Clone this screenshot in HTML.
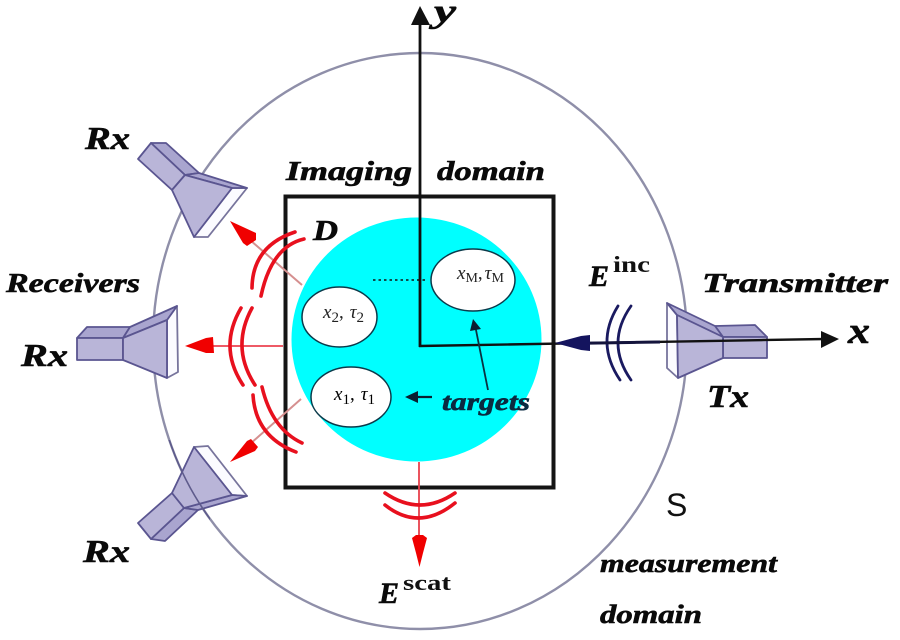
<!DOCTYPE html>
<html>
<head>
<meta charset="utf-8">
<style>
html,body{margin:0;padding:0;background:#fff;width:900px;height:640px;overflow:hidden}
svg{display:block;filter:blur(0.35px)}
.b{font-family:"Liberation Serif",serif;font-weight:bold;font-style:italic;fill:#0a0a0a;stroke:#0a0a0a;stroke-width:.6}
.m{font-family:"Liberation Serif",serif;font-style:italic;fill:#222;font-size:19px}
.h polygon{fill:#b9b5d8;stroke:#5a5590;stroke-width:1.8;stroke-linejoin:round}
.h polygon.w{fill:#fbfbff;stroke:#77749c}
.h polygon.t{fill:#a9a5cf}
.r{fill:none;stroke:#e8101e;stroke-width:3.6;stroke-linecap:round}
.n{fill:none;stroke:#1a1a60;stroke-width:2.8;stroke-linecap:round}
</style>
</head>
<body>
<svg width="900" height="640" viewBox="0 0 900 640" xmlns="http://www.w3.org/2000/svg">
<defs><clipPath id="c"><rect x="150" y="440" width="60" height="80"/></clipPath></defs>
<rect width="900" height="640" fill="#fff"/>

<ellipse cx="420" cy="341" rx="267" ry="288" fill="none" stroke="#8f8fa9" stroke-width="2.4"/>

<ellipse cx="416.5" cy="339.5" rx="125" ry="122" fill="#00ffff"/>
<rect x="285.5" y="196.5" width="268" height="291" fill="none" stroke="#141414" stroke-width="4"/>

<ellipse cx="473" cy="280" rx="42" ry="31" fill="#fff" stroke="#0b3a4a" stroke-width="1.5"/>
<ellipse cx="339.5" cy="317" rx="37.5" ry="30" fill="#fff" stroke="#0b3a4a" stroke-width="1.5"/>
<ellipse cx="351" cy="397" rx="40" ry="30" fill="#fff" stroke="#0b3a4a" stroke-width="1.5"/>

<!-- Horns -->
<g class="h">
<polygon class="t" points="151,143 166,143 199,173 185,175"/>
<polygon points="138,159 151,143 185,175 172,190"/>
<polygon class="w" points="232,188 247,188 208,237 194,237"/>
<polygon class="t" points="185,175 199,173 247,188 232,188"/>
<polygon points="185,175 232,188 194,237 172,190"/>

<polygon class="t" points="77,338 87,327 130,327 123,338"/>
<polygon points="77,338 123,338 123,360 77,360"/>
<polygon class="w" points="167,320 177,306 178,372 167,378"/>
<polygon class="t" points="123,338 130,327 177,306 167,320"/>
<polygon points="123,338 167,320 167,378 123,360"/>

<polygon class="t" points="151,539 165,541 198,510 184,508"/>
<polygon points="138,523 172,493 184,508 151,539"/>
<polygon class="w" points="194,447 208,446 247,496 232,495"/>
<polygon class="t" points="184,508 232,495 247,496 198,510"/>
<polygon points="172,493 194,447 232,495 184,508"/>

<polygon class="t" points="715,326 755,325 767,337 723,337"/>
<polygon points="723,337 767,337 767,358 723,358"/>
<polygon class="w" points="667,303 677,315 678,378 667,368"/>
<polygon class="t" points="667,303 715,326 723,337 677,315"/>
<polygon points="677,315 723,337 723,358 678,378"/>
</g>
<ellipse cx="420" cy="341" rx="267" ry="288" fill="none" stroke="#5e5b8c" stroke-width="1.6" clip-path="url(#c)"/>

<!-- Red scattered rays -->
<line x1="302" y1="285" x2="250" y2="240" stroke="#d58f8f" stroke-width="2"/>
<polygon points="230,221 256,233 256,240 247,246 243,243" fill="#f00000"/>
<line x1="283" y1="346" x2="210" y2="346" stroke="#ee5a66" stroke-width="2"/>
<polygon points="185,346 206,338 213,337 214,353 206,353" fill="#f00000"/>
<line x1="301" y1="399" x2="250" y2="444" stroke="#d58f8f" stroke-width="2"/>
<polygon points="230,462 247,441 251,439 258,447 255,451" fill="#f00000"/>
<line x1="419" y1="462" x2="419" y2="537" stroke="#e8404c" stroke-width="1.8"/>
<polygon points="412,538 416,535 423,535 427,538 423,553 419.5,567 416,553" fill="#f00000"/>

<path class="r" d="M295,232 Q252.5,246 252,288"/>
<path class="r" d="M304,239 Q271.5,246.5 261,296"/>
<path class="r" d="M241,308 Q218,347.5 243,385"/>
<path class="r" d="M252,308 Q230.5,347.5 255,385"/>
<path class="r" d="M253,395 Q255.5,436.5 296,452"/>
<path class="r" d="M262,387 Q272,429 302,443"/>
<path class="r" d="M385,493 Q420,517 455,493"/>
<path class="r" d="M385,505 Q419,532 455,503"/>

<!-- Incident wave -->
<path class="n" d="M618,306 Q595,343 620,380"/>
<path class="n" d="M631,306 Q605,343 631,380"/>

<!-- Axes -->
<line x1="420" y1="347" x2="420" y2="22" stroke="#111" stroke-width="2.8"/>
<polygon points="420,6 411,25 430,25" fill="#111"/>
<line x1="419" y1="346" x2="825" y2="339" stroke="#111" stroke-width="2.4"/>
<line x1="575" y1="343.4" x2="660" y2="342" stroke="#14143c" stroke-width="3"/>
<polygon points="555,343 581,336 590,335 590,351 581,350" fill="#14145e"/>
<polygon points="839,339 821,331 821,348" fill="#111"/>

<!-- Target arrows -->
<line x1="373" y1="280" x2="426" y2="280" stroke="#111" stroke-width="1.6" stroke-dasharray="2.5 3"/>
<line x1="488" y1="390" x2="475" y2="325" stroke="#0b3040" stroke-width="1.8"/>
<polygon points="473,319 481,329 470,331" fill="#0a2030"/>
<line x1="432" y1="397" x2="412" y2="397" stroke="#0a2030" stroke-width="2.2"/>
<polygon points="405,397 418,391 418,403" fill="#0a2030"/>

<!-- Text labels -->
<text class="b" x="85" y="149" font-size="32" textLength="45" lengthAdjust="spacingAndGlyphs">Rx</text>
<text class="b" x="6" y="292" font-size="27" textLength="134" lengthAdjust="spacingAndGlyphs">Receivers</text>
<text class="b" x="21" y="366" font-size="32" textLength="47" lengthAdjust="spacingAndGlyphs">Rx</text>
<text class="b" x="83" y="562" font-size="32" textLength="47" lengthAdjust="spacingAndGlyphs">Rx</text>
<text class="b" x="286" y="180" font-size="27" textLength="126" lengthAdjust="spacingAndGlyphs">Imaging</text>
<text class="b" x="437" y="180" font-size="27" textLength="108" lengthAdjust="spacingAndGlyphs">domain</text>
<text class="b" x="313" y="240" font-size="28" textLength="25" lengthAdjust="spacingAndGlyphs">D</text>
<text class="b" x="702" y="292" font-size="27" textLength="186" lengthAdjust="spacingAndGlyphs">Transmitter</text>
<text class="b" x="707" y="407" font-size="32" textLength="42" lengthAdjust="spacingAndGlyphs">Tx</text>
<text class="b" x="848" y="343" font-size="37" textLength="22" lengthAdjust="spacingAndGlyphs">x</text>
<text class="b" x="434" y="22" font-size="33" textLength="22" lengthAdjust="spacingAndGlyphs">y</text>
<text class="b" x="442" y="410" font-size="25" textLength="88" lengthAdjust="spacingAndGlyphs" style="fill:#0a2a40;stroke:#0a2a40">targets</text>
<text class="b" x="600" y="572" font-size="26" textLength="177" lengthAdjust="spacingAndGlyphs">measurement</text>
<text class="b" x="600" y="623" font-size="26" textLength="102" lengthAdjust="spacingAndGlyphs">domain</text>
<text x="666" y="516" font-family="Liberation Sans, sans-serif" font-size="32" fill="#111">S</text>

<text class="b" x="589" y="286" font-size="30">E</text>
<text x="613" y="272" font-family="Liberation Serif, serif" font-weight="bold" font-size="23" fill="#111" textLength="37" lengthAdjust="spacingAndGlyphs">inc</text>
<text class="b" x="379" y="603" font-size="30">E</text>
<text x="403" y="590" font-family="Liberation Serif, serif" font-weight="bold" font-size="22" fill="#111" textLength="48" lengthAdjust="spacingAndGlyphs">scat</text>

<text class="m" x="457" y="279">x<tspan font-size="14" font-style="normal" dy="3">M</tspan><tspan dy="-3" font-style="normal">,</tspan><tspan dx="2">τ</tspan><tspan font-size="14" font-style="normal" dy="3">M</tspan></text>
<text class="m" x="323" y="318">x<tspan font-size="15" font-style="normal" dy="4">2</tspan><tspan dy="-4" font-style="normal">,</tspan><tspan dx="6">τ</tspan><tspan font-size="15" font-style="normal" dy="4">2</tspan></text>
<text class="m" x="334" y="400" style="fill:#000">x<tspan font-size="15" font-style="normal" dy="4">1</tspan><tspan dy="-4" font-style="normal">,</tspan><tspan dx="6">τ</tspan><tspan font-size="15" font-style="normal" dy="4">1</tspan></text>
</svg>
</body>
</html>
